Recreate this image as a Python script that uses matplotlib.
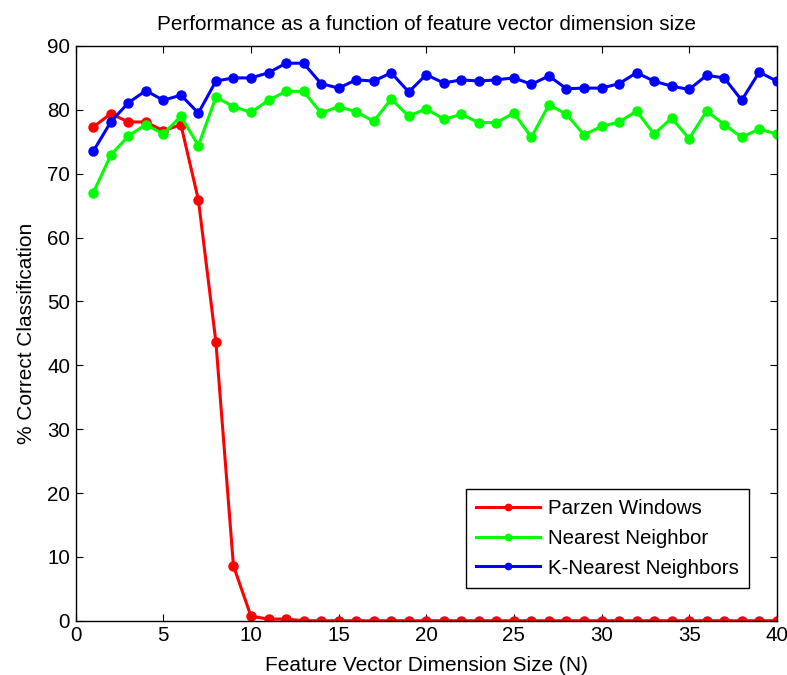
import numpy as np
from matplotlib import pyplot as plt

plt.rcParams['font.family'] = ['Liberation Sans', 'DejaVu Sans']

# feature vector dimension N
dims = np.arange(1, 41)

parzen = [77.3, 79.4, 78.1, 78.1, 76.7, 77.7, 65.9, 43.6, 8.6, 0.7,
          0.26, 0.26, 0, 0, 0, 0, 0, 0, 0, 0,
          0, 0, 0, 0, 0, 0, 0, 0, 0, 0,
          0, 0, 0, 0, 0, 0, 0, 0, 0, 0]

nearest = [67.0, 72.9, 75.9, 77.7, 76.2, 79.0, 74.4, 82.0, 80.5, 79.6,
           81.5, 82.9, 82.9, 79.5, 80.5, 79.7, 78.2, 81.7, 79.0, 80.2,
           78.5, 79.3, 78.0, 78.0, 79.5, 75.7, 80.8, 79.3, 76.1, 77.4,
           78.1, 79.8, 76.2, 78.7, 75.5, 79.8, 77.7, 75.7, 77.0, 76.2]

knearest = [73.5, 78.1, 81.1, 83.0, 81.5, 82.3, 79.5, 84.5, 85.0, 85.0,
            85.8, 87.3, 87.3, 84.1, 83.4, 84.7, 84.5, 85.8, 82.8, 85.5,
            84.2, 84.7, 84.5, 84.7, 85.0, 84.0, 85.3, 83.3, 83.4, 83.4,
            84.1, 85.8, 84.5, 83.7, 83.2, 85.4, 85.0, 81.5, 85.9, 84.5]

labels = ['Parzen Windows', 'Nearest Neighbor', 'K-Nearest Neighbors']
colors = ['#ff0000', '#00ff00', '#0000ff']

fig = plt.figure(figsize=(7.87, 6.75), dpi=100)
ax = fig.add_axes([0.0962, 0.0804, 0.8908, 0.8515])

for vals, lab, col in zip([parzen, nearest, knearest], labels, colors):
    ax.plot(dims, vals, 'o-', color=col, lw=2.2, ms=6.5, label=lab)

ax.set_xlim(0, 40)
ax.set_ylim(0, 90)
ax.set_xticks(range(0, 41, 5))
ax.set_yticks(range(0, 91, 10))
ax.tick_params(direction='in', top=True, right=True, length=5, labelsize=14.8, pad=4)
for s in ax.spines.values():
    s.set_linewidth(1.0)

ax.set_title('Performance as a function of feature vector dimension size', fontsize=14.9, pad=11.5)
ax.set_xlabel('Feature Vector Dimension Size (N)', fontsize=15, labelpad=8)
ax.set_ylabel('% Correct Classification', fontsize=15, labelpad=8)

# legend box sits a little inside the lower right corner, like matlab's
leg = ax.legend(loc='lower right', bbox_to_anchor=(0.9605, 0.057), borderaxespad=0,
                fontsize=14.8, fancybox=False, edgecolor='black', framealpha=1,
                markerscale=0.7, handlelength=3.1, handletextpad=0.4,
                borderpad=0.5, labelspacing=0.52)
leg.get_frame().set_linewidth(1.0)

plt.savefig('out.png', dpi=100)
